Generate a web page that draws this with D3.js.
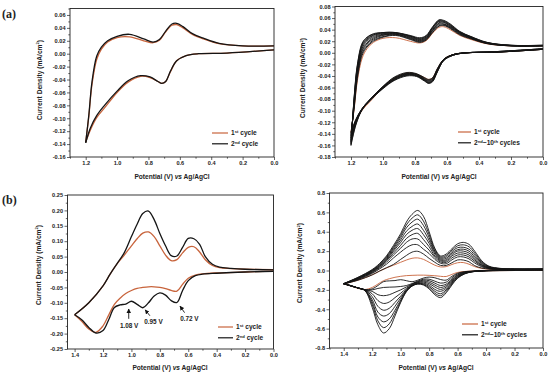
<!DOCTYPE html>
<html>
<head>
<meta charset="utf-8">
<style>
  body { margin: 0; background: #fff; }
  svg { display: block; font-family: "Liberation Sans", Arial, sans-serif; }
  .tick text { font-size: 5.6px; font-weight: bold; fill: #222; }
  .tick line { stroke: #222; stroke-width: 0.7px; }
  .frame { fill: none; stroke: #222; stroke-width: 0.9px; }
  .title { font-size: 6.6px; font-weight: bold; fill: #222; }
  .legend { font-size: 6.6px; font-weight: bold; fill: #222; }
  .note { font-size: 6.4px; font-weight: bold; fill: #222; }
  .tag { font-family: "Liberation Serif", serif; font-size: 12px; font-weight: bold; fill: #222; }
</style>
</head>
<body>
<svg width="550" height="376"></svg>

<script src="https://cdn.jsdelivr.net/npm/d3@7"></script>
<script>
// ---- data set A : scans to 1.2 V (panels a) ----
// potentials of the forward (upper) and reverse (lower) branch
const potA_up = [0.0, 0.2, 0.35, 0.45, 0.52, 0.58, 0.62, 0.65, 0.69, 0.73, 0.77, 0.83, 0.92, 1.0, 1.06, 1.1, 1.13, 1.16, 1.18, 1.2];
const potA_dn = [1.2, 1.17, 1.13, 1.08, 1.0, 0.93, 0.85, 0.79, 0.74, 0.715, 0.69, 0.66, 0.62, 0.56, 0.48, 0.3, 0.0];

const redA_up = [0.012, 0.012, 0.0155, 0.023, 0.030, 0.040, 0.045, 0.044, 0.034, 0.021, 0.017, 0.020, 0.026, 0.025, 0.018, 0.007, -0.009, -0.048, -0.097, -0.137];
const redA_dn = [-0.137, -0.118, -0.099, -0.084, -0.060, -0.044, -0.035, -0.037, -0.043, -0.046, -0.043, -0.028, -0.011, -0.003, 0.000, 0.001, 0.006];

// cycles 2..10
const cyclesA = [2, 3, 4, 5, 6, 7, 8, 9, 10];
const blackA_up = [
  [0.012, 0.012, 0.016, 0.024, 0.031, 0.042, 0.047, 0.046, 0.035, 0.022, 0.018, 0.023, 0.030, 0.027, 0.020, 0.010, -0.004, -0.044, -0.095, -0.138],
  [0.012, 0.012, 0.016, 0.025, 0.032, 0.043, 0.048, 0.047, 0.036, 0.023, 0.019, 0.024, 0.031, 0.028, 0.022, 0.012, -0.001, -0.040, -0.092, -0.141],
  [0.012, 0.012, 0.0165, 0.025, 0.033, 0.044, 0.049, 0.049, 0.038, 0.024, 0.020, 0.025, 0.032, 0.030, 0.024, 0.015, 0.002, -0.036, -0.089, -0.144],
  [0.012, 0.0125, 0.017, 0.026, 0.034, 0.045, 0.050, 0.051, 0.039, 0.025, 0.021, 0.026, 0.032, 0.031, 0.026, 0.017, 0.005, -0.033, -0.086, -0.147],
  [0.0125, 0.0125, 0.017, 0.026, 0.035, 0.046, 0.052, 0.052, 0.040, 0.026, 0.022, 0.027, 0.033, 0.032, 0.028, 0.020, 0.008, -0.030, -0.084, -0.150],
  [0.0125, 0.0125, 0.017, 0.027, 0.035, 0.047, 0.053, 0.054, 0.042, 0.027, 0.023, 0.028, 0.034, 0.033, 0.030, 0.022, 0.011, -0.027, -0.081, -0.153],
  [0.013, 0.013, 0.0175, 0.027, 0.036, 0.048, 0.054, 0.055, 0.043, 0.028, 0.024, 0.029, 0.034, 0.034, 0.031, 0.024, 0.013, -0.024, -0.079, -0.155],
  [0.013, 0.013, 0.018, 0.028, 0.036, 0.049, 0.055, 0.056, 0.044, 0.029, 0.025, 0.029, 0.035, 0.035, 0.032, 0.026, 0.015, -0.022, -0.077, -0.158],
  [0.013, 0.013, 0.018, 0.028, 0.037, 0.050, 0.056, 0.057, 0.045, 0.030, 0.026, 0.030, 0.035, 0.035, 0.033, 0.027, 0.017, -0.020, -0.075, -0.160]
];
const blackA_dn = [
  [-0.138, -0.115, -0.096, -0.080, -0.058, -0.042, -0.034, -0.036, -0.043, -0.046, -0.043, -0.027, -0.011, -0.003, 0.000, 0.001, 0.006],
  [-0.141, -0.116, -0.096, -0.080, -0.058, -0.043, -0.035, -0.037, -0.044, -0.047, -0.044, -0.028, -0.011, -0.003, 0.000, 0.001, 0.006],
  [-0.144, -0.117, -0.097, -0.081, -0.059, -0.044, -0.036, -0.037, -0.045, -0.048, -0.045, -0.029, -0.012, -0.003, 0.000, 0.001, 0.006],
  [-0.147, -0.118, -0.097, -0.081, -0.059, -0.045, -0.036, -0.038, -0.046, -0.049, -0.046, -0.030, -0.012, -0.003, 0.000, 0.001, 0.006],
  [-0.150, -0.120, -0.097, -0.081, -0.060, -0.045, -0.037, -0.039, -0.046, -0.050, -0.047, -0.031, -0.012, -0.003, 0.000, 0.0015, 0.0065],
  [-0.153, -0.121, -0.097, -0.081, -0.060, -0.046, -0.038, -0.039, -0.047, -0.051, -0.048, -0.031, -0.012, -0.004, 0.000, 0.0015, 0.0065],
  [-0.155, -0.122, -0.098, -0.082, -0.061, -0.047, -0.038, -0.040, -0.048, -0.052, -0.048, -0.032, -0.013, -0.004, 0.000, 0.002, 0.007],
  [-0.158, -0.124, -0.098, -0.082, -0.061, -0.047, -0.039, -0.040, -0.048, -0.052, -0.049, -0.032, -0.013, -0.004, 0.000, 0.002, 0.007],
  [-0.160, -0.125, -0.098, -0.082, -0.062, -0.048, -0.040, -0.041, -0.049, -0.053, -0.050, -0.033, -0.013, -0.004, 0.000, 0.002, 0.007]
];

// ---- data set B : scans to 1.4 V (panels b) ----
const potB_up = [0.0, 0.2, 0.3, 0.38, 0.43, 0.48, 0.52, 0.56, 0.60, 0.64, 0.68, 0.72, 0.76, 0.80, 0.84, 0.88, 0.92, 0.96, 1.0, 1.05, 1.1, 1.15, 1.2, 1.3, 1.4];
const potB_dn = [1.4, 1.35, 1.3, 1.25, 1.2, 1.16, 1.12, 1.08, 1.04, 1.0, 0.96, 0.92, 0.88, 0.84, 0.80, 0.76, 0.72, 0.68, 0.64, 0.60, 0.55, 0.5, 0.4, 0.2, 0.0];

const redB_up = [0.008, 0.009, 0.011, 0.014, 0.021, 0.040, 0.065, 0.082, 0.080, 0.062, 0.040, 0.037, 0.055, 0.085, 0.115, 0.130, 0.126, 0.108, 0.085, 0.055, 0.027, -0.007, -0.045, -0.100, -0.139];
const redB_dn = [-0.139, -0.160, -0.185, -0.196, -0.175, -0.140, -0.105, -0.085, -0.070, -0.060, -0.053, -0.050, -0.048, -0.048, -0.050, -0.054, -0.060, -0.062, -0.040, -0.020, -0.010, -0.006, -0.003, 0.000, 0.003];

const cyclesB = [2, 3, 4, 5, 6, 7, 8, 9, 10];
const blackB_up = [
  [0.007, 0.009, 0.012, 0.016, 0.025, 0.050, 0.090, 0.108, 0.109, 0.080, 0.052, 0.053, 0.085, 0.125, 0.170, 0.198, 0.190, 0.155, 0.115, 0.063, 0.028, -0.007, -0.045, -0.100, -0.139],
  [0.009, 0.010, 0.013, 0.020, 0.038, 0.078, 0.120, 0.140, 0.140, 0.110, 0.070, 0.075, 0.115, 0.175, 0.220, 0.265, 0.265, 0.235, 0.190, 0.130, 0.065, 0.015, -0.030, -0.094, -0.138],
  [0.010, 0.011, 0.014, 0.024, 0.046, 0.095, 0.140, 0.160, 0.160, 0.130, 0.085, 0.088, 0.135, 0.210, 0.270, 0.325, 0.325, 0.290, 0.230, 0.160, 0.085, 0.026, -0.022, -0.090, -0.138],
  [0.011, 0.012, 0.015, 0.027, 0.053, 0.110, 0.160, 0.180, 0.180, 0.150, 0.098, 0.100, 0.150, 0.245, 0.320, 0.383, 0.370, 0.330, 0.260, 0.180, 0.100, 0.035, -0.016, -0.086, -0.137],
  [0.012, 0.013, 0.016, 0.030, 0.060, 0.125, 0.180, 0.200, 0.200, 0.165, 0.110, 0.110, 0.170, 0.280, 0.370, 0.433, 0.415, 0.370, 0.290, 0.200, 0.110, 0.042, -0.010, -0.082, -0.137],
  [0.013, 0.014, 0.018, 0.033, 0.070, 0.140, 0.200, 0.220, 0.215, 0.180, 0.125, 0.120, 0.185, 0.310, 0.415, 0.480, 0.455, 0.405, 0.315, 0.215, 0.120, 0.049, -0.005, -0.079, -0.136],
  [0.014, 0.015, 0.019, 0.037, 0.080, 0.160, 0.220, 0.240, 0.235, 0.195, 0.140, 0.130, 0.200, 0.340, 0.465, 0.530, 0.500, 0.440, 0.340, 0.230, 0.130, 0.056, 0.000, -0.076, -0.136],
  [0.015, 0.016, 0.020, 0.041, 0.090, 0.180, 0.245, 0.265, 0.255, 0.210, 0.155, 0.140, 0.215, 0.370, 0.510, 0.575, 0.540, 0.470, 0.360, 0.245, 0.140, 0.063, 0.005, -0.073, -0.135],
  [0.015, 0.016, 0.022, 0.045, 0.100, 0.200, 0.270, 0.290, 0.275, 0.225, 0.170, 0.150, 0.230, 0.400, 0.560, 0.620, 0.580, 0.500, 0.380, 0.260, 0.150, 0.070, 0.010, -0.070, -0.135]
];
const blackB_dn = [
  [-0.139, -0.155, -0.180, -0.198, -0.190, -0.155, -0.115, -0.107, -0.104, -0.095, -0.105, -0.116, -0.100, -0.078, -0.068, -0.075, -0.093, -0.099, -0.060, -0.028, -0.012, -0.007, -0.004, 0.000, 0.002],
  [-0.138, -0.156, -0.180, -0.200, -0.200, -0.185, -0.175, -0.172, -0.170, -0.165, -0.155, -0.135, -0.110, -0.090, -0.090, -0.110, -0.130, -0.120, -0.075, -0.035, -0.015, -0.008, -0.003, 0.002, 0.004],
  [-0.138, -0.157, -0.180, -0.200, -0.215, -0.250, -0.260, -0.250, -0.225, -0.200, -0.170, -0.140, -0.115, -0.100, -0.105, -0.130, -0.155, -0.140, -0.090, -0.045, -0.018, -0.009, -0.002, 0.003, 0.006],
  [-0.137, -0.158, -0.180, -0.200, -0.240, -0.310, -0.340, -0.325, -0.280, -0.235, -0.185, -0.145, -0.120, -0.110, -0.120, -0.150, -0.175, -0.155, -0.100, -0.050, -0.021, -0.010, -0.002, 0.004, 0.008],
  [-0.137, -0.158, -0.180, -0.200, -0.270, -0.370, -0.410, -0.390, -0.330, -0.265, -0.195, -0.150, -0.125, -0.120, -0.135, -0.170, -0.195, -0.170, -0.110, -0.058, -0.025, -0.011, -0.001, 0.006, 0.010],
  [-0.136, -0.159, -0.180, -0.205, -0.300, -0.430, -0.470, -0.445, -0.370, -0.285, -0.205, -0.155, -0.130, -0.130, -0.150, -0.195, -0.215, -0.185, -0.120, -0.064, -0.028, -0.012, -0.001, 0.007, 0.011],
  [-0.136, -0.159, -0.180, -0.205, -0.325, -0.480, -0.530, -0.500, -0.410, -0.305, -0.210, -0.158, -0.135, -0.138, -0.165, -0.215, -0.240, -0.200, -0.130, -0.070, -0.031, -0.013, 0.000, 0.008, 0.013],
  [-0.135, -0.160, -0.180, -0.208, -0.350, -0.520, -0.590, -0.550, -0.440, -0.320, -0.215, -0.160, -0.138, -0.145, -0.178, -0.235, -0.260, -0.215, -0.140, -0.075, -0.033, -0.014, 0.000, 0.009, 0.014],
  [-0.135, -0.160, -0.180, -0.210, -0.380, -0.560, -0.645, -0.600, -0.470, -0.330, -0.220, -0.160, -0.140, -0.150, -0.190, -0.250, -0.280, -0.230, -0.150, -0.080, -0.035, -0.015, 0.000, 0.010, 0.015]
];

// peak labels in panel (b) left: text position, arrow tail and arrow head, all in data units
const peakNotes = [
  { label: "1.08 V", at: [1.016, -0.175], from: [1.019, -0.152], to: [1.019, -0.120] },
  { label: "0.95 V", at: [0.845, -0.163], from: [0.870, -0.142], to: [0.903, -0.123] },
  { label: "0.72 V", at: [0.592, -0.153], from: [0.626, -0.132], to: [0.658, -0.111] }
];

const RED = "#c8643c";
const BLACK = "#151515";

const svg = d3.select("svg");

// d3.format gives a unicode minus, the figure uses a plain hyphen
const fmt = spec => d => d3.format(spec)(d).replace("\u2212", "-");
const steps = (a, b, s, k) => d3.range(Math.round(a * k), Math.round(b * k) + 1, Math.round(s * k)).map(v => v / k);

function branches(potUp, potDn, up, dn, color, width) {
  return [
    { pts: d3.zip(potUp, up), color: color, width: width },
    { pts: d3.zip(potDn, dn), color: color, width: width }
  ];
}

function curvesFor(set, n, width) {
  const out = [];
  const src = set === "A"
    ? { pu: potA_up, pd: potA_dn, ru: redA_up, rd: redA_dn, bu: blackA_up, bd: blackA_dn }
    : { pu: potB_up, pd: potB_dn, ru: redB_up, rd: redB_dn, bu: blackB_up, bd: blackB_dn };
  out.push(...branches(src.pu, src.pd, src.ru, src.rd, RED, width));
  for (let i = 0; i < n; i++) out.push(...branches(src.pu, src.pd, src.bu[i], src.bd[i], BLACK, width));
  return out;
}

const panels = [
  { id: "a1", box: [70, 8.5, 274, 157], xDomain: [1.3, 0], yDomain: [-0.16, 0.07],
    xTicks: steps(0, 1.2, 0.2, 10), xMinor: steps(0.1, 1.3, 0.2, 10),
    yTicks: steps(-0.16, 0.06, 0.02, 100), yMinor: steps(-0.15, 0.07, 0.02, 100), yFmt: ".2f",
    curves: curvesFor("A", 1, 1.3),
    legend: { x: 212, y: 133, len: 16, items: [[RED, "1", "st", " cycle"], [BLACK, "2", "nd", " cycle"]] },
    xTitle: [172, 178.5], yTitle: [41.5, 80] },
  { id: "a2", box: [335, 6.5, 543, 157], xDomain: [1.3, 0], yDomain: [-0.18, 0.08],
    xTicks: steps(0, 1.2, 0.2, 10), xMinor: steps(0.1, 1.3, 0.2, 10),
    yTicks: steps(-0.18, 0.08, 0.02, 100), yMinor: steps(-0.17, 0.07, 0.02, 100), yFmt: ".2f",
    curves: curvesFor("A", cyclesA.length, 0.9),
    legend: { x: 458, y: 132, len: 13, items: [[RED, "1", "st", " cycle"], [BLACK, "2", "nd", "~10", "th", " cycles"]] },
    xTitle: [439, 178.5], yTitle: [305, 78] },
  { id: "b1", box: [67.5, 195, 273.5, 349], xDomain: [1.45, 0], yDomain: [-0.25, 0.25],
    xTicks: steps(0, 1.4, 0.2, 10), xMinor: steps(0.1, 1.3, 0.2, 10),
    yTicks: steps(-0.25, 0.25, 0.05, 100), yMinor: steps(-0.225, 0.225, 0.05, 1000), yFmt: ".2f",
    curves: curvesFor("B", 1, 1.3),
    legend: { x: 218, y: 327, len: 15, items: [[RED, "1", "st", " cycle"], [BLACK, "2", "nd", " cycle"]] },
    xTitle: [170, 369.5], yTitle: [40.5, 265], notes: peakNotes },
  { id: "b2", box: [329.5, 193, 543, 348], xDomain: [1.5, 0], yDomain: [-0.8, 0.8],
    xTicks: steps(0, 1.4, 0.2, 10), xMinor: steps(0.1, 1.5, 0.2, 10),
    yTicks: steps(-0.8, 0.8, 0.2, 10), yMinor: steps(-0.7, 0.7, 0.2, 10), yFmt: ".1f",
    curves: curvesFor("B", cyclesB.length, 0.9),
    legend: { x: 462, y: 324, len: 16, items: [[RED, "1", "st", " cycle"], [BLACK, "2", "nd", "~10", "th", " cycles"]] },
    xTitle: [436, 369.5], yTitle: [302, 263] }
];

// arrow head marker for the peak notes
svg.append("defs").append("marker")
  .attr("id", "arrow").attr("viewBox", "0 0 10 10")
  .attr("refX", 9).attr("refY", 5)
  .attr("markerWidth", 5).attr("markerHeight", 5)
  .attr("orient", "auto")
  .append("path").attr("d", "M0,0L10,5L0,10z").attr("fill", "#111");

// text with superscripts: parts alternate normal / superscript
function richText(sel, parts) {
  parts.forEach((t, i) => {
    const sup = i % 2 === 1;
    sel.append("tspan")
      .attr("dy", sup ? -2.2 : (i > 0 ? 2.2 : 0))
      .attr("font-size", sup ? "4.2px" : null)
      .text(t);
  });
}

function drawPanel(p) {
  const [x0, y0, x1, y1] = p.box;
  const x = d3.scaleLinear().domain(p.xDomain).range([x0, x1]);
  const y = d3.scaleLinear().domain(p.yDomain).range([y1, y0]);
  const g = svg.append("g");

  g.append("clipPath").attr("id", "clip-" + p.id)
    .append("rect").attr("x", x0).attr("y", y0).attr("width", x1 - x0).attr("height", y1 - y0);

  const line = d3.line()
    .x(d => x(d[0]))
    .y(d => y(d[1]))
    .curve(d3.curveCatmullRom.alpha(0.5));

  const plot = g.append("g").attr("clip-path", `url(#clip-${p.id})`);
  plot.selectAll("path")
    .data(p.curves)
    .enter()
    .append("path")
    .attr("d", d => line(d.pts))
    .attr("fill", "none")
    .attr("stroke", d => d.color)
    .attr("stroke-width", d => d.width)
    .attr("stroke-linejoin", "round");

  // axes, ticks pointing outwards
  g.append("g").attr("transform", `translate(0,${y1})`)
    .call(d3.axisBottom(x).tickValues(p.xTicks).tickFormat(fmt(".1f")).tickSize(3).tickPadding(1.2));
  g.append("g").attr("transform", `translate(0,${y1})`)
    .call(d3.axisBottom(x).tickValues(p.xMinor).tickFormat("").tickSize(1.7));
  g.append("g").attr("transform", `translate(${x0},0)`)
    .call(d3.axisLeft(y).tickValues(p.yTicks).tickFormat(fmt(p.yFmt)).tickSize(3).tickPadding(1.5));
  g.append("g").attr("transform", `translate(${x0},0)`)
    .call(d3.axisLeft(y).tickValues(p.yMinor).tickFormat("").tickSize(1.7));
  g.selectAll(".domain").remove();
  g.selectAll(".tick text").attr("font-family", null).attr("font-size", null);

  g.append("rect").attr("class", "frame")
    .attr("x", x0).attr("y", y0).attr("width", x1 - x0).attr("height", y1 - y0);

  // axis titles
  const xt = g.append("text").attr("class", "title")
    .attr("x", p.xTitle[0]).attr("y", p.xTitle[1]).attr("text-anchor", "middle");
  xt.append("tspan").text("Potential (V) ");
  xt.append("tspan").attr("font-style", "italic").text("vs");
  xt.append("tspan").text(" Ag/AgCl");

  const yt = g.append("text").attr("class", "title")
    .attr("text-anchor", "middle")
    .attr("transform", `translate(${p.yTitle[0]},${p.yTitle[1]}) rotate(-90)`);
  richText(yt, ["Current Density (mA/cm", "2", ")"]);

  // legend
  const lg = g.append("g").attr("transform", `translate(${p.legend.x},${p.legend.y})`);
  p.legend.items.forEach((it, i) => {
    const row = lg.append("g").attr("transform", `translate(0,${i * 10.8})`);
    row.append("line").attr("x1", 0).attr("x2", p.legend.len)
      .attr("stroke", it[0]).attr("stroke-width", 1.2);
    const t = row.append("text").attr("class", "legend")
      .attr("x", p.legend.len + 3).attr("y", 2.3);
    richText(t, it.slice(1));
  });

  // peak notes
  (p.notes || []).forEach(n => {
    g.append("line")
      .attr("x1", x(n.from[0])).attr("y1", y(n.from[1]))
      .attr("x2", x(n.to[0])).attr("y2", y(n.to[1]))
      .attr("stroke", "#111").attr("stroke-width", 0.9)
      .attr("marker-end", "url(#arrow)");
    g.append("text").attr("class", "note")
      .attr("x", x(n.at[0])).attr("y", y(n.at[1]))
      .attr("dy", "0.35em").attr("text-anchor", "middle")
      .text(n.label);
  });
}

panels.forEach(drawPanel);

svg.append("text").attr("class", "tag").attr("x", 2).attr("y", 18).text("(a)");
svg.append("text").attr("class", "tag").attr("x", 2).attr("y", 204).text("(b)");
</script>
</body>
</html>
